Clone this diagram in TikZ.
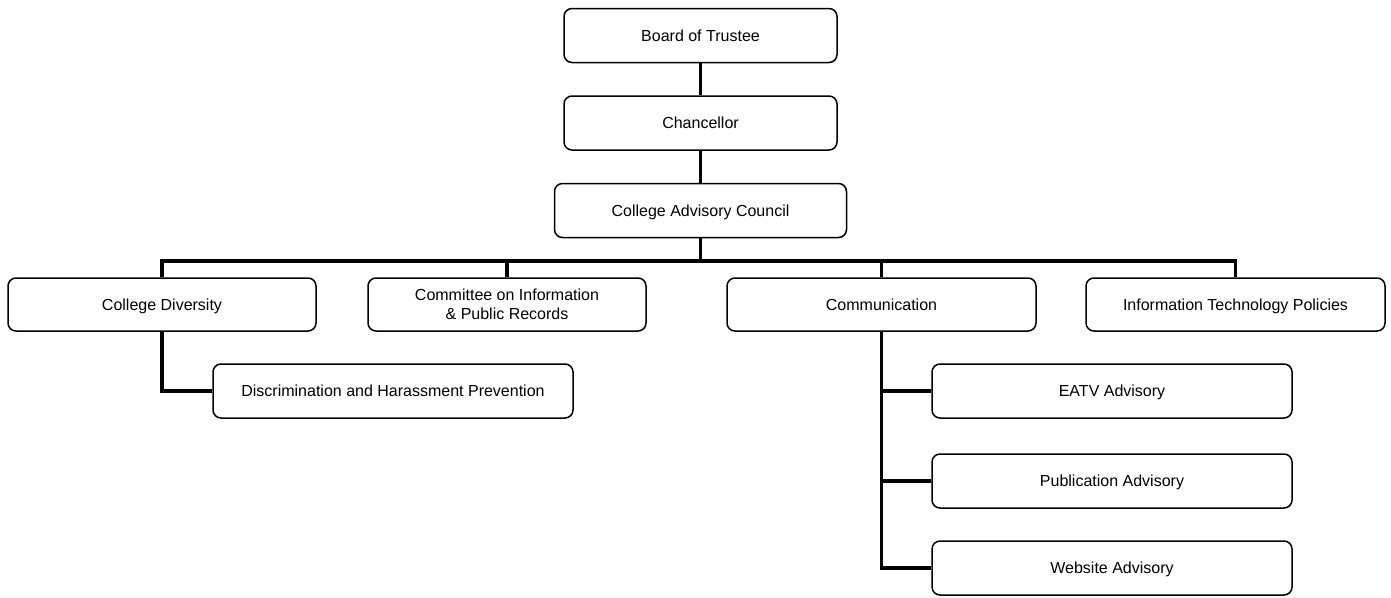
\documentclass[tikz,border=0pt]{standalone}
\usepackage{fontspec}
\setmainfont{Liberation Sans}
\begin{document}
\begin{tikzpicture}[x=1pt,y=-1pt,
  box/.style={draw=black,line width=1.5pt,rounded corners=8pt,fill=white,
    minimum height=54pt,inner sep=0pt,align=center,
    text height=11pt,text depth=0pt,
    font=\fontsize{16}{19}\selectfont},
  twoline/.style={text height={},text depth={}},
  conn/.style={draw=black,line width=3.5pt}]
\useasboundingbox (0,0) rectangle (1391,597);
\node[box,minimum width=273pt] (board) at (700.5,35.5) {Board of Trustee};
\node[box,minimum width=273pt] (chan) at (700.5,123) {Chancellor};
\node[box,minimum width=292pt] (council) at (700.5,210.5) {College Advisory Council};
\node[box,minimum width=308pt,minimum height=53pt] (cd) at (162,304.5) {College Diversity};
\node[box,twoline,minimum width=278pt,minimum height=53pt] (cir) at (507,304.5) {Committee on Information\\\& Public Records};
\node[box,minimum width=309pt,minimum height=53pt] (comm) at (881.5,304.5) {Communication};
\node[box,minimum width=299pt,minimum height=53pt] (itp) at (1235.5,304.5) {Information Technology Policies};
\node[box,minimum width=360pt] (disc) at (393,391) {Discrimination and Harassment Prevention};
\node[box,minimum width=360pt] (eatv) at (1112,391) {EATV Advisory};
\node[box,minimum width=360pt] (pub) at (1112,481) {Publication Advisory};
\node[box,minimum width=360pt] (web) at (1112,568) {Website Advisory};
\coordinate (bus) at (700.5,261);
\draw[conn] (board) -- (chan);
\draw[conn] (chan) -- (council);
\draw[conn] (council) -- (bus);
\draw[conn] (bus) -| (cd);
\draw[conn] (bus) -| (cir);
\draw[conn] (bus) -| (comm);
\draw[conn] (bus) -| (itp);
\draw[conn] (cd) |- (disc);
\draw[conn] (comm) |- (eatv);
\draw[conn] (comm) |- (pub);
\draw[conn] (comm) |- (web);
\end{tikzpicture}
\end{document}
